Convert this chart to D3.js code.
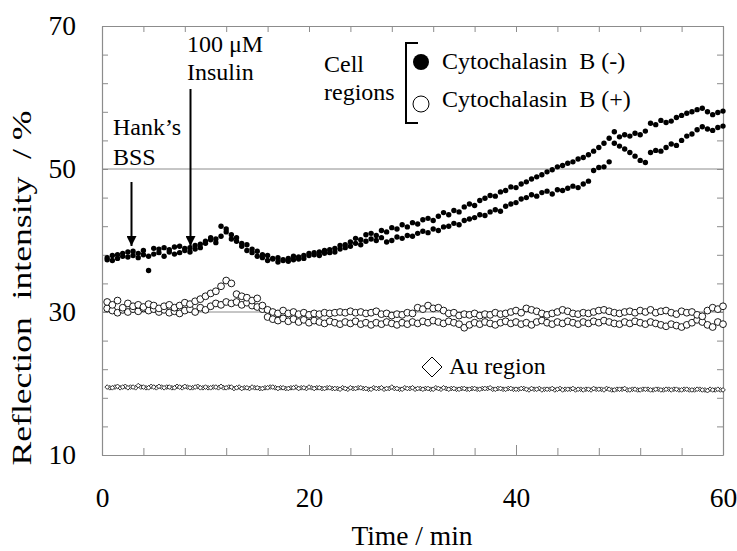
<!DOCTYPE html>
<html><head><meta charset="utf-8">
<script src="https://cdn.jsdelivr.net/npm/d3@7"></script>
</head>
<body style="margin:0;background:#fff"><svg id="c" width="737" height="551"></svg>
<script>
// ---- data ----
const times = [0.5,1,1.5,2,2.5,3,3.5,4,4.5,5,5.5,6,6.5,7,7.5,8,8.5,9,9.5,10,10.5,11,11.5,12,12.5,13,13.5,14,14.5,15,15.5,16,16.5,17,17.5,18,18.5,19,19.5,20,20.5,21,21.5,22,22.5,23,23.5,24,24.5,25,25.5,26,26.5,27,27.5,28,28.5,29,29.5,30,30.5,31,31.5,32,32.5,33,33.5,34,34.5,35,35.5,36,36.5,37,37.5,38,38.5,39,39.5,40,40.5,41,41.5,42,42.5,43,43.5,44,44.5,45,45.5,46,46.5,47,47.5,48,48.5,49,49.5,50,50.5,51,51.5,52,52.5,53,53.5,54,54.5,55,55.5,56,56.5,57,57.5,58,58.5,59,59.5,60];
const timesB = [0.75,1.25,1.75,2.25,2.75,3.25,3.75,4.25,4.75,5.25,5.75,6.25,6.75,7.25,7.75,8.25,8.75,9.25,9.75,10.25,10.75,11.25,11.75,12.25,12.75,13.25,13.75,14.25,14.75,15.25,15.75,16.25,16.75,17.25,17.75,18.25,18.75,19.25,19.75,20.25,20.75,21.25,21.75,22.25,22.75,23.25,23.75,24.25,24.75,25.25,25.75,26.25,26.75,27.25,27.75,28.25,28.75,29.25,29.75,30.25,30.75,31.25,31.75,32.25,32.75,33.25,33.75,34.25,34.75,35.25,35.75,36.25,36.75,37.25,37.75,38.25,38.75,39.25,39.75,40.25,40.75,41.25,41.75,42.25,42.75,43.25,43.75,44.25,44.75,45.25,45.75,46.25,46.75,47.25,47.75,48.25,48.75,49.25,49.75,50.25,50.75,51.25,51.75,52.25,52.75,53.25,53.75,54.25,54.75,55.25,55.75,56.25,56.75,57.25,57.75,58.25,58.75,59.25,59.75];

// Cytochalasin B (-), two cell regions
const cytoMinusA = [37.6,37.2,38.0,37.8,38.4,37.9,38.2,38.6,37.8,38.9,38.3,39.0,38.4,38.1,39.2,38.6,39.0,38.8,39.5,39.9,40.4,40.2,42.0,41.2,40.8,40.4,39.6,39.4,38.8,38.5,38.0,37.9,37.5,37.6,37.2,37.5,37.8,37.4,37.9,38.2,38.0,38.4,38.6,38.3,38.9,39.3,39.0,39.8,40.3,40.1,40.8,41.0,40.7,41.4,41.2,41.8,41.6,42.2,41.9,42.5,42.3,42.9,43.1,42.8,43.4,43.9,43.6,44.2,44.0,44.7,45.1,44.9,45.6,45.9,46.3,46.2,46.8,47.0,47.5,47.4,47.9,48.2,48.6,48.9,49.2,49.6,49.9,50.3,50.5,50.8,51.0,51.4,51.6,52.0,52.5,53.0,53.6,54.3,55.2,54.5,54.8,54.6,55.0,54.8,55.3,56.4,56.2,56.8,56.5,56.7,57.2,57.5,57.8,58.0,58.3,58.5,58.0,57.6,57.9,58.1];
const cytoMinusB = [37.3,37.9,37.5,38.2,37.7,38.5,37.6,38.0,35.8,38.1,38.8,37.8,38.7,39.1,38.3,38.9,38.4,39.3,39.0,39.6,40.1,39.7,40.6,41.6,40.2,39.9,39.2,38.6,38.3,37.8,37.6,37.2,37.4,37.0,37.3,37.1,37.3,37.7,37.5,37.9,38.3,37.9,38.2,38.7,38.4,38.8,39.4,39.2,39.6,39.4,39.9,40.2,40.0,40.4,39.8,40.0,40.5,40.3,40.7,40.6,41.0,41.3,41.1,41.6,41.4,41.9,42.0,42.4,42.2,42.8,43.0,43.2,43.6,43.5,44.0,44.3,44.1,44.8,45.1,45.3,45.8,46.0,46.4,46.2,46.7,46.9,46.5,47.1,47.0,47.3,47.6,47.4,47.9,48.3,49.8,50.2,50.3,51.0,53.6,53.2,52.8,52.3,51.8,51.2,50.9,52.3,52.6,52.5,53.0,53.5,53.3,54.0,54.6,54.9,55.5,55.9,55.6,55.4,55.8,56.0];

// Cytochalasin B (+), two cell regions
const cytoPlusA = [31.4,31.0,31.6,30.6,31.2,30.8,31.0,30.7,31.1,30.9,30.5,30.8,31.0,30.6,30.9,31.3,31.1,31.5,31.8,32.2,32.6,32.9,33.6,34.4,34.0,32.5,32.2,32.0,31.6,31.9,30.9,30.3,30.0,29.8,30.2,29.8,30.0,29.7,29.9,29.6,29.8,29.7,29.9,29.8,29.9,30.0,29.9,30.1,29.9,30.0,29.8,29.9,30.1,29.7,29.8,29.5,29.7,29.6,29.9,29.8,30.6,30.4,30.9,30.5,30.6,30.2,29.8,29.9,29.5,29.7,29.6,29.8,29.5,29.7,29.6,29.9,29.7,29.8,30.0,30.2,29.9,30.5,30.3,30.1,29.8,29.6,29.8,30.0,30.3,30.1,29.8,29.7,29.9,29.8,30.0,30.2,30.3,30.1,29.9,29.8,30.0,30.1,29.9,30.2,30.0,30.3,29.9,30.1,30.2,29.9,29.7,30.1,29.9,30.0,29.6,29.4,30.2,30.6,30.4,30.8];
const cytoPlusB = [30.5,30.2,29.9,30.3,30.0,30.4,30.1,30.5,30.2,30.4,30.0,30.3,29.9,30.1,29.8,30.2,30.4,30.0,30.6,30.3,30.8,31.2,31.0,31.4,31.2,31.4,31.0,31.3,30.9,30.7,30.4,29.3,29.0,28.8,29.1,28.7,29.0,28.6,28.9,28.5,28.8,28.6,28.4,28.7,28.5,28.3,28.6,28.4,28.7,28.3,28.5,28.2,28.5,28.3,28.6,28.4,28.2,28.5,28.3,28.6,28.4,28.7,28.5,28.8,28.6,28.4,28.7,28.5,28.3,27.8,28.2,28.5,28.3,28.6,28.4,28.2,28.5,28.7,28.4,28.6,28.3,28.5,28.2,28.6,28.8,28.5,28.3,28.6,28.4,28.7,28.5,28.3,28.6,28.4,28.7,28.5,28.8,28.6,28.4,28.3,28.6,28.4,28.7,28.5,28.3,28.6,28.4,28.2,28.0,28.3,28.1,27.9,28.2,28.5,28.9,28.6,28.2,27.9,28.6,28.3];

// Au region
const auA = [19.5,19.4,19.6,19.5,19.4,19.5,19.7,19.5,19.4,19.5,19.6,19.4,19.5,19.4,19.5,19.6,19.4,19.5,19.4,19.5,19.4,19.5,19.6,19.4,19.5,19.4,19.3,19.4,19.5,19.4,19.3,19.4,19.5,19.3,19.4,19.3,19.4,19.3,19.4,19.5,19.3,19.4,19.3,19.4,19.3,19.2,19.3,19.4,19.3,19.4,19.3,19.2,19.3,19.4,19.3,19.5,19.3,19.2,19.3,19.4,19.3,19.2,19.3,19.2,19.3,19.4,19.2,19.3,19.2,19.3,19.2,19.3,19.2,19.3,19.4,19.2,19.3,19.2,19.3,19.2,19.3,19.2,19.3,19.2,19.1,19.2,19.3,19.2,19.1,19.2,19.3,19.2,19.1,19.2,19.3,19.2,19.1,19.2,19.1,19.2,19.3,19.1,19.2,19.1,19.2,19.1,19.2,19.1,19.2,19.1,19.2,19.1,19.2,19.1,19.2,19.1,19.0,19.1,19.2,19.1];
const auB = [19.4,19.5,19.4,19.6,19.5,19.4,19.5,19.4,19.6,19.4,19.5,19.5,19.4,19.6,19.4,19.5,19.4,19.6,19.4,19.4,19.5,19.4,19.4,19.5,19.3,19.5,19.4,19.3,19.4,19.3,19.4,19.5,19.4,19.4,19.3,19.4,19.5,19.4,19.3,19.4,19.4,19.3,19.4,19.3,19.3,19.4,19.2,19.3,19.4,19.3,19.2,19.4,19.3,19.2,19.3,19.3,19.2,19.4,19.3,19.2,19.3,19.3,19.2,19.4,19.2,19.3,19.3,19.2,19.3,19.2,19.3,19.2,19.3,19.3,19.2,19.3,19.2,19.3,19.2,19.2,19.3,19.1,19.2,19.3,19.2,19.2,19.1,19.3,19.2,19.2,19.1,19.2,19.2,19.1,19.2,19.2,19.3,19.1,19.2,19.2,19.1,19.2,19.1,19.2,19.2,19.1,19.2,19.1,19.2,19.2,19.1,19.2,19.1,19.1,19.2,19.1,19.2,19.1,19.1];

const xTicks = [0,4,8,12,16,20,24,28,32,36,40,44,48,52,56,60];
const xLabels = [0,20,40,60];
const yTicks = [10,14,18,22,26,30,34,38,42,46,50,54,58,62,66,70];
const yLabels = [10,30,50,70];
const gridLines = [30,50];

// ---- chart ----
const FONT = "'Liberation Serif', monospace";
const NB = "\u00A0";
const svg = d3.select("#c");
const L=102,R=723,T=26,B=455;
const x = d3.scaleLinear().domain([0,60]).range([L,R]);
const y = d3.scaleLinear().domain([10,70]).range([B,T]);
const axisColor = "#8c8c8c";

function txt(g,xp,yp,s,size){
  return g.append("text").attr("x",xp).attr("y",yp).style("font-family",FONT)
    .attr("font-size",size).attr("fill","#000").text(s);
}

svg.append("g").selectAll("line").data(gridLines).join("line")
  .attr("x1",L).attr("x2",R).attr("y1",d=>y(d)).attr("y2",d=>y(d))
  .attr("stroke",axisColor).attr("stroke-width",1);

function styleAxis(g){
  g.attr("font-family",null);
  g.select(".domain").attr("stroke",axisColor).attr("stroke-width",1.2);
  g.selectAll(".tick line").attr("stroke",axisColor).attr("stroke-width",1);
  g.selectAll(".tick text").style("font-family",FONT).attr("font-size",27.5).attr("fill","#000");
}
const gB = svg.append("g").attr("transform",`translate(0,${B})`)
  .call(d3.axisBottom(x).tickValues(xTicks).tickSizeInner(-7).tickSizeOuter(0).tickPadding(32)
    .tickFormat(d=>xLabels.includes(d)?d:""));
styleAxis(gB);
gB.selectAll(".tick line").attr("y2",d=>(d===20||d===40)?-10:-7);
const gT = svg.append("g").attr("transform",`translate(0,${T})`)
  .call(d3.axisTop(x).tickValues(xTicks).tickSizeInner(-6).tickSizeOuter(0).tickFormat(""));
styleAxis(gT);
const gL = svg.append("g").attr("transform",`translate(${L},0)`)
  .call(d3.axisLeft(y).tickValues(yTicks).tickSizeInner(-6).tickSizeOuter(0).tickPadding(26)
    .tickFormat(d=>yLabels.includes(d)?d:""));
styleAxis(gL);
const gR = svg.append("g").attr("transform",`translate(${R},0)`)
  .call(d3.axisRight(y).tickValues(yTicks).tickSizeInner(-6).tickSizeOuter(0).tickFormat(""));
styleAxis(gR);

// series
const diamond = d3.symbol().type(d3.symbolDiamond2).size(14);
function zip(ts,vs){return ts.map((t,i)=>({t,v:vs[i]}));}
const gAu = svg.append("g");
[[timesB,auB],[times,auA]].forEach(([ts,vs])=>{
  gAu.selectAll(null).data(zip(ts,vs)).join("path")
    .attr("d",diamond).attr("transform",d=>`translate(${x(d.t)},${y(d.v)})`)
    .attr("fill","#fff").attr("stroke","#000").attr("stroke-width",0.8);
});
const gOpen = svg.append("g");
[cytoPlusB,cytoPlusA].forEach(vs=>{
  gOpen.selectAll(null).data(zip(times,vs)).join("circle")
    .attr("cx",d=>x(d.t)).attr("cy",d=>y(d.v)).attr("r",3.4)
    .attr("fill","#fff").attr("stroke","#000").attr("stroke-width",0.9);
});
const gFill = svg.append("g");
[cytoMinusB,cytoMinusA].forEach(vs=>{
  gFill.selectAll(null).data(zip(times,vs)).join("circle")
    .attr("cx",d=>x(d.t)).attr("cy",d=>y(d.v)).attr("r",2.7).attr("fill","#000");
});

// axis titles
txt(svg,412,545,"Time / min",27.5).attr("text-anchor","middle");
txt(svg,0,0,"Reflection"+NB+NB+"intensity"+NB+NB+"/ %",28)
  .attr("transform","translate(31,288) rotate(-90)").attr("text-anchor","middle")
  .attr("textLength",355).attr("lengthAdjust","spacingAndGlyphs");

// annotations
const ann = svg.append("g");
txt(ann,113,135,"Hank’s",24);
txt(ann,113,165,"BSS",24);
txt(ann,187,52,"100 μM",24);
txt(ann,187,80,"Insulin",24);
svg.append("defs").append("marker").attr("id","ah").attr("viewBox","0 0 10 10")
  .attr("refX",10).attr("refY",5).attr("markerWidth",5).attr("markerHeight",5)
  .attr("markerUnits","strokeWidth").attr("orient","auto")
  .append("path").attr("d","M0,0 L10,5 L0,10 z").attr("fill","#000");
const arrows = [{t:2.8,from:182,to:246},{t:8.5,from:89,to:246}];
svg.append("g").selectAll("line").data(arrows).join("line")
  .attr("x1",d=>Math.round(x(d.t))+0.5).attr("x2",d=>Math.round(x(d.t))+0.5)
  .attr("y1",d=>d.from).attr("y2",d=>d.to)
  .attr("stroke","#000").attr("stroke-width",2).attr("marker-end","url(#ah)");

// legend
const lg = svg.append("g");
txt(lg,324,72,"Cell",24);
txt(lg,324,100,"regions",24);
lg.append("path").attr("d","M418,43 L406,43 L406,123 L418,123").attr("fill","none")
  .attr("stroke","#000").attr("stroke-width",2);
lg.append("circle").attr("cx",421).attr("cy",62).attr("r",8).attr("fill","#000");
lg.append("circle").attr("cx",421).attr("cy",104).attr("r",8).attr("fill","#fff").attr("stroke","#000").attr("stroke-width",1);
txt(lg,442,69,"Cytochalasin"+NB+NB+"B (-)",24);
txt(lg,442,107,"Cytochalasin"+NB+NB+"B (+)",24);
lg.append("path").attr("d","M432,357 L442,367 L432,377 L422,367 Z").attr("fill","#fff").attr("stroke","#000").attr("stroke-width",1);
txt(lg,449,374,"Au region",24);
</script></body></html>
